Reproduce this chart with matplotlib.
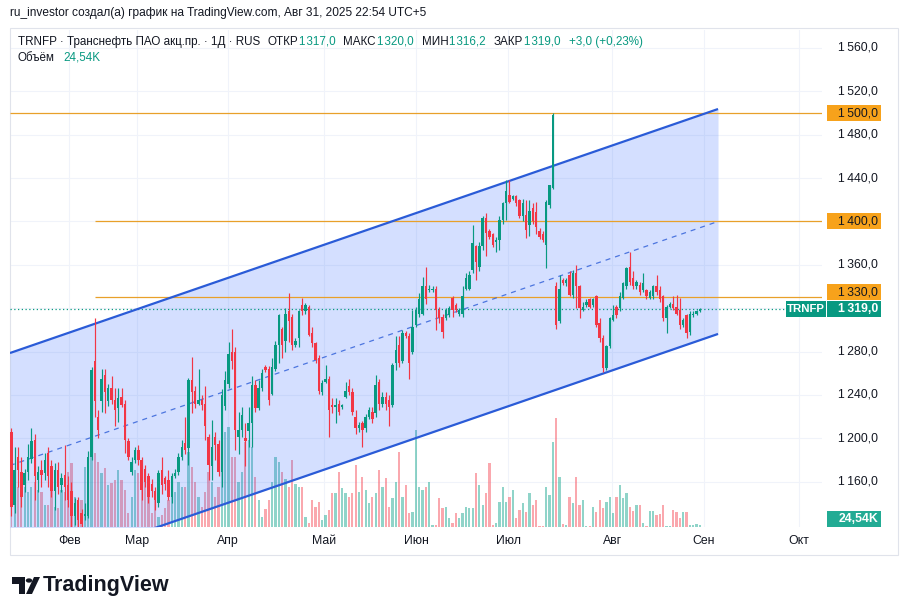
import matplotlib
matplotlib.use("Agg")
import matplotlib.pyplot as plt
from matplotlib.patches import Rectangle, Polygon, Circle
from matplotlib.transforms import blended_transform_factory

plt.rcParams["font.family"] = ["Liberation Sans", "DejaVu Sans"]

# daily bars, TRNFP
opens = [1206, 1138, 1183, 1169, 1157, 1169, 1181, 1198, 1161, 1171, 1168, 1186, 1174, 1151, 1171, 1157, 1166, 1157, 1151, 1128,
         1143, 1131, 1128, 1128, 1183, 1271, 1220, 1234, 1258, 1234, 1246, 1235, 1228, 1238, 1232, 1197, 1169, 1180, 1189, 1180,
         1172, 1165, 1158, 1151, 1140, 1171, 1163, 1161, 1146, 1165, 1169, 1183, 1196, 1191, 1254, 1244, 1232, 1235, 1232, 1201,
         1174, 1201, 1195, 1169, 1230, 1250, 1280, 1280, 1201, 1208, 1200, 1207, 1214, 1249, 1228, 1246, 1266, 1264, 1241, 1264,
         1286, 1301, 1290, 1317, 1312, 1286, 1292, 1323, 1317, 1321, 1297, 1288, 1274, 1243, 1252, 1255, 1231, 1229, 1232, 1229,
         1238, 1248, 1243, 1220, 1209, 1214, 1209, 1220, 1224, 1223, 1252, 1232, 1238, 1235, 1231, 1269, 1286, 1271, 1297, 1294,
         1280, 1304, 1315, 1315, 1340, 1337, 1337, 1338, 1318, 1312, 1311, 1314, 1329, 1323, 1315, 1315, 1338, 1338, 1355, 1377,
         1358, 1377, 1403, 1391, 1388, 1381, 1383, 1401, 1417, 1424, 1421, 1423, 1420, 1405, 1406, 1397, 1412, 1409, 1391, 1388,
         1378, 1415, 1431, 1340, 1308, 1346, 1343, 1351, 1332, 1352, 1340, 1318, 1323, 1328, 1323, 1331, 1306, 1292, 1265, 1285,
         1309, 1321, 1320, 1329, 1340, 1358, 1348, 1340, 1341, 1337, 1337, 1329, 1331, 1340, 1337, 1331, 1311, 1321, 1324, 1321,
         1318, 1304, 1314, 1298, 1314, 1315, 1317]
highs = [1209, 1192, 1192, 1183, 1172, 1195, 1209, 1204, 1174, 1180, 1186, 1192, 1180, 1177, 1178, 1168, 1194, 1165, 1160, 1145,
         1146, 1135, 1140, 1188, 1266, 1311, 1226, 1264, 1264, 1250, 1257, 1246, 1246, 1246, 1235, 1200, 1183, 1192, 1194, 1183,
         1175, 1168, 1162, 1155, 1171, 1183, 1165, 1171, 1168, 1172, 1186, 1198, 1220, 1256, 1275, 1248, 1264, 1240, 1248, 1204,
         1217, 1206, 1198, 1245, 1262, 1289, 1301, 1284, 1224, 1229, 1214, 1229, 1257, 1254, 1254, 1264, 1268, 1267, 1274, 1290,
         1315, 1303, 1320, 1334, 1315, 1292, 1318, 1329, 1325, 1323, 1303, 1289, 1277, 1254, 1268, 1257, 1237, 1237, 1235, 1232,
         1252, 1255, 1246, 1226, 1215, 1216, 1222, 1229, 1229, 1258, 1255, 1243, 1243, 1240, 1269, 1294, 1294, 1300, 1299, 1297,
         1318, 1321, 1334, 1349, 1358, 1341, 1340, 1340, 1321, 1315, 1320, 1322, 1331, 1325, 1320, 1340, 1352, 1354, 1397, 1378,
         1381, 1405, 1408, 1393, 1389, 1386, 1405, 1418, 1438, 1438, 1424, 1424, 1421, 1421, 1420, 1420, 1417, 1418, 1394, 1391,
         1420, 1434, 1500, 1344, 1351, 1348, 1348, 1354, 1355, 1360, 1341, 1326, 1328, 1329, 1329, 1332, 1311, 1295, 1286, 1312,
         1323, 1323, 1335, 1344, 1358, 1372, 1354, 1346, 1344, 1352, 1338, 1337, 1341, 1351, 1340, 1332, 1323, 1326, 1331, 1332,
         1329, 1311, 1315, 1317, 1317, 1318, 1320]
lows = [1128, 1131, 1155, 1137, 1150, 1161, 1177, 1143, 1150, 1155, 1161, 1155, 1146, 1134, 1149, 1150, 1143, 1137, 1118, 1120,
        1115, 1115, 1125, 1126, 1180, 1220, 1200, 1224, 1223, 1230, 1232, 1211, 1215, 1229, 1186, 1180, 1166, 1177, 1175, 1143,
        1155, 1140, 1146, 1134, 1137, 1149, 1152, 1143, 1140, 1163, 1166, 1180, 1185, 1175, 1223, 1228, 1231, 1226, 1198, 1161,
        1161, 1180, 1165, 1155, 1226, 1246, 1264, 1189, 1185, 1201, 1174, 1192, 1192, 1224, 1226, 1244, 1261, 1231, 1240, 1262,
        1269, 1274, 1280, 1289, 1281, 1284, 1284, 1314, 1315, 1294, 1284, 1269, 1241, 1240, 1251, 1201, 1223, 1214, 1221, 1227,
        1237, 1240, 1221, 1204, 1206, 1192, 1206, 1218, 1214, 1220, 1226, 1229, 1226, 1211, 1229, 1263, 1266, 1269, 1292, 1255,
        1278, 1303, 1312, 1314, 1324, 1335, 1335, 1300, 1306, 1292, 1309, 1312, 1312, 1316, 1313, 1312, 1337, 1337, 1352, 1346,
        1354, 1374, 1368, 1384, 1376, 1372, 1374, 1398, 1401, 1417, 1420, 1414, 1403, 1400, 1385, 1387, 1398, 1388, 1384, 1381,
        1357, 1412, 1430, 1301, 1306, 1341, 1340, 1331, 1329, 1320, 1311, 1317, 1321, 1320, 1321, 1303, 1289, 1261, 1263, 1283,
        1308, 1311, 1317, 1328, 1338, 1341, 1338, 1338, 1332, 1335, 1328, 1328, 1328, 1332, 1326, 1308, 1297, 1320, 1318, 1314,
        1301, 1303, 1292, 1295, 1312, 1314, 1316.2]
closes = [1137, 1171, 1171, 1146, 1168, 1183, 1197, 1165, 1169, 1166, 1180, 1165, 1151, 1171, 1155, 1163, 1155, 1143, 1128, 1140,
          1125, 1121, 1130, 1183, 1263, 1234, 1208, 1255, 1243, 1246, 1235, 1226, 1237, 1231, 1198, 1183, 1178, 1189, 1180, 1152,
          1160, 1146, 1151, 1143, 1168, 1157, 1158, 1146, 1165, 1168, 1183, 1192, 1189, 1254, 1243, 1232, 1235, 1231, 1211, 1175,
          1192, 1194, 1169, 1240, 1254, 1278, 1271, 1208, 1208, 1221, 1197, 1214, 1249, 1228, 1246, 1260, 1263, 1235, 1266, 1286,
          1314, 1286, 1315, 1308, 1286, 1290, 1317, 1317, 1323, 1295, 1288, 1272, 1244, 1251, 1255, 1226, 1229, 1231, 1224, 1231,
          1244, 1243, 1224, 1209, 1212, 1208, 1220, 1226, 1218, 1249, 1232, 1238, 1232, 1229, 1268, 1281, 1269, 1297, 1294, 1269,
          1303, 1318, 1328, 1340, 1328, 1338, 1338, 1318, 1311, 1298, 1318, 1320, 1318, 1318, 1318, 1331, 1348, 1351, 1380, 1363,
          1377, 1403, 1389, 1386, 1378, 1383, 1401, 1417, 1428, 1418, 1423, 1417, 1405, 1417, 1392, 1410, 1400, 1395, 1386, 1383,
          1418, 1434, 1498, 1304, 1338, 1343, 1346, 1332, 1352, 1340, 1320, 1321, 1326, 1321, 1328, 1304, 1292, 1265, 1285, 1311,
          1314, 1314, 1331, 1343, 1357, 1344, 1340, 1344, 1335, 1343, 1331, 1335, 1340, 1335, 1328, 1311, 1321, 1324, 1320, 1315,
          1304, 1309, 1297, 1315, 1315, 1317, 1319]
volumes = [750, 570, 400, 300, 400, 350, 400, 450, 370, 350, 220, 220, 370, 200, 190, 370, 350, 550, 640, 300,
           270, 270, 600, 600, 900, 740, 650, 540, 590, 420, 440, 470, 570, 470, 370, 140, 300, 570, 540, 670,
           570, 400, 140, 270, 100, 120, 190, 270, 500, 350, 450, 400, 400, 750, 600, 450, 300, 200, 350, 550,
           450, 300, 400, 850, 950, 1000, 700, 700, 450, 550, 850, 870, 800, 500, 270, 100, 180, 270, 450, 700,
           650, 550, 480, 400, 670, 430, 400, 400, 100, 40, 270, 200, 250, 70, 120, 170, 340, 340, 550, 390,
           340, 300, 340, 620, 350, 500, 370, 240, 300, 340, 570, 400, 490, 200, 290, 450, 750, 300, 420, 140,
           150, 970, 400, 370, 400, 450, 20, 20, 290, 190, 200, 90, 40, 140, 90, 140, 200, 190, 190, 540,
           420, 220, 340, 640, 20, 40, 250, 400, 250, 300, 370, 90, 170, 240, 150, 340, 220, 270, 10, 10,
           400, 320, 850, 1090, 500, 30, 20, 300, 240, 500, 220, 270, 10, 10, 200, 150, 270, 190, 250, 300,
           140, 300, 420, 290, 340, 200, 160, 220, 220, 40, 10, 160, 160, 120, 130, 220, 10, 10, 170, 150,
           90, 150, 150, 20, 20, 30, 24.54]

month_labels = ["Фев", "Мар", "Апр", "Май", "Июн", "Июл", "Авг", "Сен", "Окт"]
month_pos = [17.3, 37.6, 64.8, 93.5, 121.1, 148.6, 179.7, 207.2, 235.6]
price_ticks = [1160, 1200, 1240, 1280, 1320, 1360, 1400, 1440, 1480, 1520, 1560]
price_labels_hidden = [1320, 1400]

level_prices = [1500, 1400, 1330]
level_starts = [-0.4, 25.0, 25.0]
level_label_shift = [0, 0, 5]  # px, labels pushed apart by the chart

channel_x = [-0.4, 211.4]
channel_top = [1278.6, 1503.7]
channel_bottom = [1071.1, 1296.2]

last_price = 1319.0
last_volume_label = "24,54K"
legend_name = "TRNFP · Транснефть ПАО акц.пр. · 1Д · RUS"
legend_fields = [("ОТКР", "1\u200a317,0"), ("МАКС", "1\u200a320,0"), ("МИН", "1\u200a316,2"), ("ЗАКР", "1\u200a319,0")]
legend_change = "+3,0 (+0,23%)"

GREEN = "#089981"
RED = "#f23645"
ORANGE = "#f7a21b"
BLUE = "#2a5bd7"
TEXT = "#131722"

W, H = 908, 616
FS = 8.8


def fmt_price(p):
    s = f"{p:,.1f}"
    return s.replace(",", "\u2009").replace(".", ",")


fig = plt.figure(figsize=(W / 100, H / 100), dpi=100)
fig.patch.set_facecolor("white")

rect = [10 / W, 89 / H, 812 / W, 497 / H]
axv = fig.add_axes(rect)
ax = fig.add_axes(rect)
axv.set_zorder(0)
ax.set_zorder(1)
ax.patch.set_alpha(0)

xmin, xmax = -0.39, 242.5
ymin, ymax = 1118.1, 1576.6
ax.set_xlim(xmin, xmax)
ax.set_ylim(ymin, ymax)
axv.set_xlim(xmin, xmax)
axv.set_ylim(0, 4970)
px_price = (ymax - ymin) / 497

for a in (ax, axv):
    for s in a.spines.values():
        s.set_visible(False)
    a.set_xticks([])
    a.set_yticks([])

# grid
for p in price_ticks:
    axv.axhline((p - ymin) / (ymax - ymin) * 4970, color="#f0f3fa", lw=0.8, zorder=0)
for m in month_pos:
    axv.axvline(m, color="#f0f3fa", lw=0.8, zorder=0)

idx = list(range(len(closes)))
up = [c >= o for o, c in zip(opens, closes)]
cols = [GREEN if u else RED for u in up]
vcols = ["#22ab94" if u else "#f7525f" for u in up]

# volume
axv.bar(idx, volumes, width=0.68, color=vcols, alpha=0.5, linewidth=0, zorder=2)

# channel
ax.fill_between(channel_x, channel_bottom, channel_top, color="#2962ff", alpha=0.2, linewidth=0, zorder=1)
ax.plot(channel_x, channel_top, color=BLUE, lw=1.6, zorder=4, solid_capstyle="butt")
ax.plot(channel_x, channel_bottom, color=BLUE, lw=1.6, zorder=4, solid_capstyle="butt")
mid = [(a + b) / 2 for a, b in zip(channel_top, channel_bottom)]
ax.plot(channel_x, mid, color=BLUE, lw=0.9, ls=(0, (4, 4)), alpha=0.8, zorder=4)

# levels
for lp, ls in zip(level_prices, level_starts):
    ax.hlines(lp, ls, xmax, color="#e8a02a", lw=0.9, zorder=3)
ax.hlines(last_price, xmin, 231.4, color=GREEN, lw=0.9, ls=(0, (1, 2)), zorder=3)

# candles
ax.vlines(idx, lows, highs, colors=cols, lw=0.85, zorder=5)
bottoms = [min(o, c) for o, c in zip(opens, closes)]
heights = [max(abs(c - o), 0.9) for o, c in zip(opens, closes)]
ax.bar(idx, heights, bottom=bottoms, width=0.72, color=cols, linewidth=0, zorder=6)

# price scale
tr = blended_transform_factory(ax.transAxes, ax.transData)
lx = (878 - 10) / 812
for p in price_ticks:
    if p in price_labels_hidden:
        continue
    ax.text(lx, p, fmt_price(p), transform=tr, ha="right", va="center",
            fontsize=FS, color=TEXT, clip_on=False)

bx0 = (827 - 10) / 812
bw = 54 / 812
bh = 16 * px_price
for lp, sh in zip(level_prices, level_label_shift):
    yy = lp + sh * px_price
    ax.add_patch(Rectangle((bx0, yy - bh / 2), bw, bh, transform=tr, facecolor=ORANGE,
                           edgecolor="none", clip_on=False, zorder=10))
    ax.text(lx, yy, fmt_price(lp), transform=tr, ha="right", va="center",
            fontsize=FS, color=TEXT, clip_on=False, zorder=11)

ax.add_patch(Rectangle((bx0, last_price - bh / 2), bw, bh, transform=tr, facecolor=GREEN,
                       edgecolor="none", clip_on=False, zorder=10))
ax.text(lx, last_price, fmt_price(last_price), transform=tr, ha="right", va="center",
        fontsize=FS, color="white", fontweight="bold", clip_on=False, zorder=11)
ax.add_patch(Rectangle(((786 - 10) / 812, last_price - bh / 2), 40 / 812, bh, transform=tr,
                       facecolor=GREEN, edgecolor="none", clip_on=False, zorder=10))
ax.text((806 - 10) / 812, last_price, "TRNFP", transform=tr, ha="center", va="center",
        fontsize=8.2, color="white", fontweight="bold", clip_on=False, zorder=11)

# volume label
ax.add_patch(Rectangle((bx0, 0.0), bw, 16 / 497, transform=ax.transAxes, facecolor="#22ab94",
                       edgecolor="none", clip_on=False, zorder=10))
ax.text(lx, 8 / 497, last_volume_label, transform=ax.transAxes, ha="right", va="center",
        fontsize=FS, color="white", fontweight="bold", clip_on=False, zorder=11)

# time axis
trx = blended_transform_factory(ax.transData, ax.transAxes)
for m, lab in zip(month_pos, month_labels):
    ax.text(m, -14 / 497, lab, transform=trx, ha="center", va="center", fontsize=FS,
            color=TEXT, clip_on=False)


def px(x, y):
    return x / W, 1 - y / H


# widget frame
fig.add_artist(Rectangle(px(10, 555), 888 / W, 527 / H, transform=fig.transFigure,
                         facecolor="none", edgecolor="#e0e3eb", lw=0.8))

# header
fig.text(*px(10, 13), "ru_investor создал(а) график на TradingView.com, Авг 31, 2025 22:54 UTC+5",
         fontsize=8.6, color=TEXT, va="center")

renderer = fig.canvas.get_renderer()


def put(x, y, s, c):
    t = fig.text(*px(x, y), s, fontsize=8.4, color=c, va="center")
    return t.get_window_extent(renderer).x1


x = put(18, 42, legend_name, TEXT) + 7
for lab, val in legend_fields:
    x = put(x, 42, lab, TEXT) + 1
    x = put(x, 42, val, GREEN) + 8
put(x, 42, legend_change, GREEN)
x = put(18, 58, "Объём", TEXT) + 8
put(x, 58, last_volume_label, GREEN)

# logo
fig.add_artist(Polygon([px(12, 577), px(25, 577), px(25, 594), px(19, 594), px(19, 584), px(12, 584)],
                       closed=True, transform=fig.transFigure, facecolor=TEXT, edgecolor="none"))
fig.add_artist(Circle(px(29, 580.5), 3.2 / W, transform=fig.transFigure, facecolor=TEXT, edgecolor="none"))
fig.add_artist(Polygon([px(34, 577), px(40, 577), px(32, 594), px(26, 594)], closed=True,
                       transform=fig.transFigure, facecolor=TEXT, edgecolor="none"))
fig.text(*px(43, 585.5), "TradingView", fontsize=15.5, fontweight="bold", color=TEXT, va="center")

fig.savefig("out.png", dpi=100)
